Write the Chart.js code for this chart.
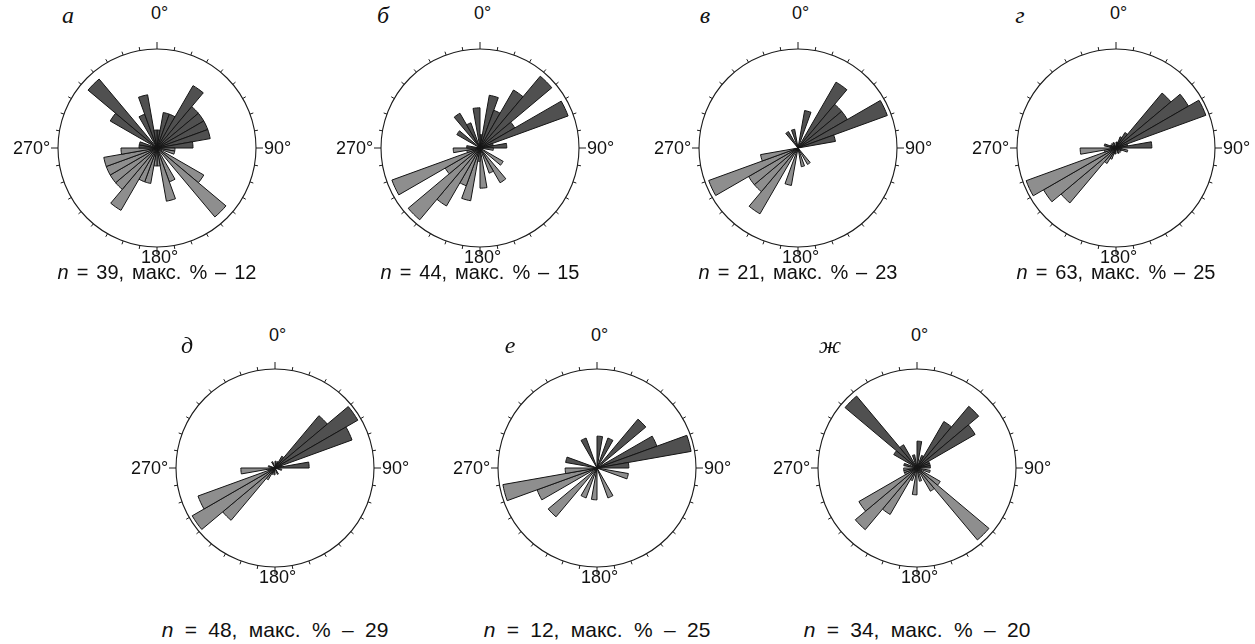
<!DOCTYPE html>
<html>
<head>
<meta charset="utf-8">
<script src="https://cdn.jsdelivr.net/npm/chart.js@4.4.1/dist/chart.umd.min.js"></script>
<style>
  html, body { margin: 0; padding: 0; background: #fff; }
  body { width: 1255px; height: 644px; position: relative; overflow: hidden;
         font-family: "Liberation Sans", Arial, sans-serif; color: #111; }
  canvas { position: absolute; }
  .deg { position: absolute; font-size: 18px; line-height: 20px; white-space: nowrap; }
  .cap { position: absolute; line-height: 22px; white-space: nowrap; transform: translate(-50%, -50%); }
  .let { position: absolute; font-family: "Liberation Serif", "DejaVu Serif", serif; font-style: italic;
         font-size: 24px; line-height: 24px; transform: translate(-50%, -50%); }
</style>
</head>
<body>
<script>
// ---- data (counts of orientations per 10° sector, 0–180°; rose is axial so 180–360° mirrors it)
const sectors = [];
for (let d = 0; d < 360; d += 10) sectors.push(d + '–' + (d + 10) + '°');
const degreeLabels = ['0°', '90°', '180°', '270°'];
const panelLetters = ['а', 'б', 'в', 'г', 'д', 'е', 'ж'];
const sampleSizes = [39, 44, 21, 63, 48, 12, 34];
const maxPercent = [12, 15, 23, 25, 29, 25, 20];

const countsA  = [1, 2, 2, 4, 3, 3, 3, 3, 2, 1, 1, 0, 3, 5, 0, 2, 3, 1];
const countsB  = [1, 4, 3, 5, 7, 3, 7, 1, 2, 1, 0, 0, 2, 0, 3, 2, 0, 3];
const countsV  = [0, 2, 0, 4, 3, 3, 5, 2, 0, 0, 0, 0, 0, 0, 1, 0, 1, 0];
const countsG  = [1, 1, 2, 3, 12, 14, 16, 2, 6, 1, 2, 1, 0, 1, 0, 1, 0, 0];
const countsD  = [1, 0, 1, 2, 10, 14, 12, 1, 5, 0, 1, 0, 0, 0, 0, 1, 0, 0];
const countsE  = [1, 0, 1, 0, 2, 0, 2, 3, 1, 0, 1, 0, 0, 0, 0, 1, 0, 0];
const countsZh = [2, 0, 1, 4, 6, 5, 1, 1, 1, 0, 1, 0, 2, 7, 2, 0, 1, 0];
const allCounts = [countsA, countsB, countsV, countsG, countsD, countsE, countsZh];

// radial scale limit (percent at the outer circle)
const radialMax = [14.1, 16.8, 24.8, 26.3, 30.2, 25.9, 21.7];

// ---- layout
const centers = [[157, 148], [480, 148], [798, 148], [1116, 148], [275, 468], [597, 468], [917, 468]];
const letterPos = [[68, 15], [383, 15], [705, 15], [1020, 15], [187, 345], [510, 345], [830, 345]];
const zeroLabelY = [13, 13, 13, 13, 335, 335, 335];
const captionY = [272, 272, 272, 272, 630, 630, 630];
const captionFont = [20, 20, 20, 20, 21, 21, 21];
const captionSpacing = [2.4, 2.4, 2.4, 2.4, 5.5, 5.5, 5.5];
const R = 99, HALF = 120, PAD = HALF - R;

const DARK = '#505050', LIGHT = '#8e8e8e';

const compass = {
  id: 'compass',
  afterDraw(chart) {
    const s = chart.scales.r, ctx = chart.ctx;
    const cx = s.xCenter, cy = s.yCenter, r = s.drawingArea;
    ctx.save();
    ctx.strokeStyle = '#1a1a1a';
    ctx.lineWidth = 1;
    ctx.beginPath();
    for (let d = 0; d < 360; d += 10) {
      const a = (d - 90) * Math.PI / 180;
      const L = d % 90 === 0 ? 7 : 3.5;
      ctx.moveTo(cx + r * Math.cos(a), cy + r * Math.sin(a));
      ctx.lineTo(cx + (r + L) * Math.cos(a), cy + (r + L) * Math.sin(a));
    }
    ctx.stroke();
    ctx.restore();
  }
};

function addDiv(cls, x, y, html) {
  const d = document.createElement('div');
  d.className = cls;
  d.innerHTML = html;
  d.style.left = x + 'px';
  d.style.top = y + 'px';
  document.body.appendChild(d);
  return d;
}

allCounts.forEach((counts, k) => {
  const n = sampleSizes[k];
  const pct = counts.map(c => c / n * 100);
  const values = pct.concat(pct);           // axial data: mirror to 180–360°
  const colors = sectors.map((_, i) => (i < 9 || i >= 27) ? DARK : LIGHT);
  const [cx, cy] = centers[k];
  const cv = document.createElement('canvas');
  cv.width = 2 * HALF; cv.height = 2 * HALF;
  cv.style.left = (cx - HALF) + 'px';
  cv.style.top = (cy - HALF) + 'px';
  document.body.appendChild(cv);
  const chart = new Chart(cv, {
    type: 'polarArea',
    data: { labels: sectors, datasets: [{ data: values, backgroundColor: colors,
            borderColor: '#141414', borderWidth: 1 }] },
    options: {
      responsive: false, animation: false, devicePixelRatio: 1,
      layout: { padding: PAD },
      plugins: { legend: { display: false }, tooltip: { enabled: false } },
      scales: { r: { min: 0, max: radialMax[k],
        ticks: { display: false, stepSize: radialMax[k] },
        grid: { color: '#1a1a1a', lineWidth: 1.1 },
        angleLines: { display: false }, pointLabels: { display: false } } }
    },
    plugins: [compass]
  });
  const s = chart.scales.r;
  const X = cx - HALF + s.xCenter, Y = cy - HALF + s.yCenter, r = s.drawingArea;
  // degree labels
  const top = addDiv('deg', 0, zeroLabelY[k] - 10, degreeLabels[0]);
  top.style.left = (X - 6) + 'px';
  addDiv('deg', X + r + 8, Y - 10, degreeLabels[1]);
  const bot = addDiv('deg', 0, Y + 109 - 10, degreeLabels[2]);
  bot.style.left = (X - 16) + 'px';
  const left = addDiv('deg', 0, Y - 10, degreeLabels[3]);
  left.style.left = (X - r - 8 - left.offsetWidth) + 'px';
  // panel letter
  addDiv('let', letterPos[k][0], letterPos[k][1], panelLetters[k]);
  // caption
  const cap = addDiv('cap', X, captionY[k], '<i>n</i> = ' + n + ', макс. % – ' + maxPercent[k]);
  cap.style.fontSize = captionFont[k] + 'px';
  cap.style.wordSpacing = captionSpacing[k] + 'px';
});
</script>
</body>
</html>
